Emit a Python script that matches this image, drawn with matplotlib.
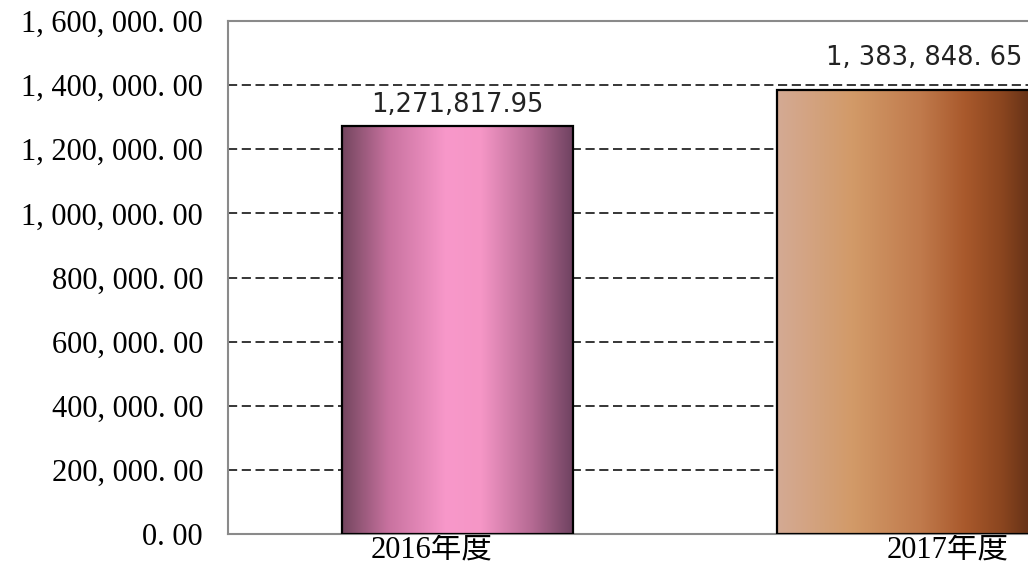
import numpy as np
import matplotlib
matplotlib.use('Agg')
import matplotlib.pyplot as plt
from matplotlib.colors import LinearSegmentedColormap
from matplotlib.ticker import FuncFormatter

# data
categories = ['2016年度', '2017年度']
values = [1271817.95, 1383848.65]
value_labels = ['1,271,817.95', '1, 383, 848. 65']
y_ticks = [0, 200000, 400000, 600000, 800000, 1000000, 1200000, 1400000, 1600000]


def tick_fmt(v, pos):
    # imitate the SimSun punctuation spacing
    return f'{v:,.2f}'.replace(',', ', ').replace('.', '. ')


fig = plt.figure(figsize=(10.28, 5.69), dpi=100)
ax = fig.add_axes([228 / 1028, 35 / 569, 800 / 1028, 513 / 569])

# bars: the second one runs off the right edge as in the source
widths = [0.471, 0.697]
bars = ax.bar([0, 1], values, width=widths, color='none',
              edgecolor='black', linewidth=1.6, zorder=3)

pink = LinearSegmentedColormap.from_list('pink', [
    (0.0, '#74465f'), (0.2, '#c8729f'), (0.45, '#f898ca'),
    (0.6, '#f596c6'), (0.82, '#b56a93'), (1.0, '#6e4260')])
brown = LinearSegmentedColormap.from_list('brown', [
    (0.0, '#d4aa94'), (0.22, '#d29a68'), (0.42, '#c07a4c'),
    (0.55, '#a9592c'), (0.66, '#8a451f'), (0.73, '#6a3418'), (1.0, '#5e2e14')])

grad = np.linspace(0, 1, 256).reshape(1, -1)
for bar, cmap in zip(bars, [pink, brown]):
    x0, y0 = bar.get_x(), bar.get_y()
    w, h = bar.get_width(), bar.get_height()
    im = ax.imshow(grad, cmap=cmap, aspect='auto', interpolation='bicubic',
                   extent=[x0, x0 + w, y0, y0 + h], zorder=2)
    im.set_clip_path(bar)

# value labels
ax.annotate(value_labels[0], (bars[0].get_x() + bars[0].get_width() / 2, values[0]),
            xytext=(0, 6), textcoords='offset points', ha='center', va='bottom',
            fontsize=18.5, family='DejaVu Sans', color='#222222')
ax.annotate(value_labels[1], (bars[1].get_x() + bars[1].get_width() / 2, values[1]),
            xytext=(-17, 14), textcoords='offset points', ha='center', va='bottom',
            fontsize=18.5, family='DejaVu Sans', color='#222222')

ax.set_xlim(-0.468, 1.163)
ax.set_ylim(0, 1600000)
ax.set_yticks(y_ticks)
ax.yaxis.set_major_formatter(FuncFormatter(tick_fmt))
ax.set_xticks([-0.053, 1])
ax.set_xticklabels(categories, family=['Liberation Serif', 'Noto Sans CJK SC'], fontsize=22)
for lab in ax.get_yticklabels():
    lab.set_family('Liberation Serif')
    lab.set_fontsize(22)
ax.tick_params(axis='y', length=0, pad=18)
ax.tick_params(axis='x', length=0, pad=1)

ax.yaxis.grid(True, color='black', linestyle=(0, (6, 3)), linewidth=1.1)
ax.set_axisbelow(True)
for side in ['left', 'bottom', 'top']:
    ax.spines[side].set_color('#8a8a8a')
    ax.spines[side].set_linewidth(1.5)
ax.spines['right'].set_visible(False)

fig.savefig('out.png', dpi=100)
